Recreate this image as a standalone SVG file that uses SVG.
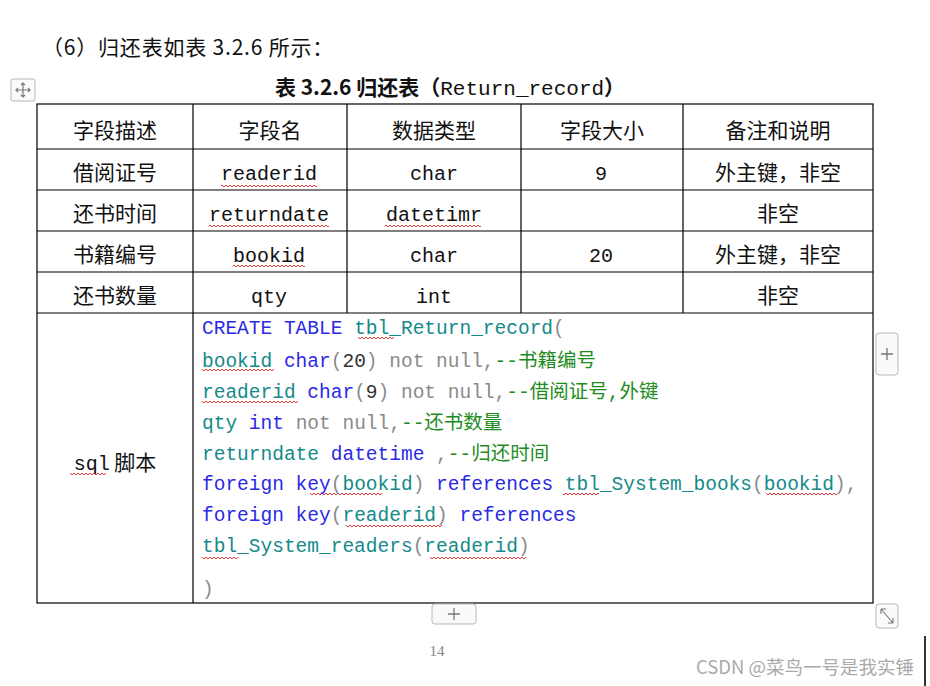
<svg xmlns="http://www.w3.org/2000/svg" width="930" height="686" viewBox="0 0 930 686">
<defs>
<pattern id="wv" width="4" height="4" patternUnits="userSpaceOnUse"><path d="M0,3 L2,1 L4,3" fill="none" stroke="#e02020" stroke-width="0.9"/></pattern>
<style>
.cj{font-family:"Noto Sans CJK SC","Noto Sans",sans-serif;font-size:21px;fill:#111}
.mo{font-family:"Liberation Mono","Noto Sans CJK SC",monospace;font-size:20px;fill:#111}
.sq{font-family:"Liberation Mono","Noto Sans CJK SC",monospace;font-size:19.5px}
.b{fill:#2a2ae6}.t{fill:#148a8a}.g{fill:#8a8a8a}.gr{fill:#1e8c1e}.k{fill:#333}
.ln{stroke:#000;stroke-width:1.2}
.ui{fill:#fafafa;stroke:#b8b8b8;stroke-width:1}
</style>
</defs>
<rect width="930" height="686" fill="#fff"/>
<text x="42" y="55" class="cj" style="font-size:21px;letter-spacing:0.8px">（6）归还表如表 3.2.6 所示：</text>
<text x="450" y="95" text-anchor="middle" class="cj" style="font-weight:bold;font-size:21px">表 3.2.6 归还表（<tspan class="mo" style="font-weight:normal;font-size:21px">Return_record</tspan>）</text>
<g id="table">
<rect x="37" y="104" width="836" height="499" fill="none" class="ln"/>
<path class="ln" d="M37,149H873M37,190H873M37,231H873M37,272H873M37,313H873M193,104V603M347,104V313M521,104V313M683,104V313"/>
</g>
<g id="cells" text-anchor="middle">
<text x="115" y="138" class="cj">字段描述</text><text x="270" y="138" class="cj">字段名</text><text x="434" y="138" class="cj">数据类型</text><text x="602" y="138" class="cj">字段大小</text><text x="778" y="138" class="cj">备注和说明</text>
<text x="115" y="180" class="cj">借阅证号</text><text x="269" y="180" class="mo">readerid</text><text x="434" y="180" class="mo">char</text><text x="601" y="180" class="mo">9</text><text x="778" y="180" class="cj">外主键，非空</text>
<text x="115" y="221" class="cj">还书时间</text><text x="269" y="221" class="mo">returndate</text><text x="434" y="221" class="mo">datetimr</text><text x="778" y="221" class="cj">非空</text>
<text x="115" y="262" class="cj">书籍编号</text><text x="269" y="262" class="mo">bookid</text><text x="434" y="262" class="mo">char</text><text x="601" y="262" class="mo">20</text><text x="778" y="262" class="cj">外主键，非空</text>
<text x="115" y="303" class="cj">还书数量</text><text x="269" y="303" class="mo">qty</text><text x="434" y="303" class="mo">int</text><text x="778" y="303" class="cj">非空</text>
<text x="115" y="470" class="cj"><tspan class="mo">sql</tspan> 脚本</text>
</g>
<g id="squiggles">
<rect x="221" y="183" width="96" height="4" fill="url(#wv)"/>
<rect x="209" y="224" width="120" height="4" fill="url(#wv)"/>
<rect x="385" y="224" width="96" height="4" fill="url(#wv)"/>
<rect x="233" y="265" width="72" height="4" fill="url(#wv)"/>
<rect x="70" y="473" width="36" height="4" fill="url(#wv)"/>
<rect x="358" y="337" width="36" height="4" fill="url(#wv)"/>
<rect x="202" y="369" width="72" height="4" fill="url(#wv)"/>
<rect x="202" y="400" width="96" height="4" fill="url(#wv)"/>
<rect x="310" y="493" width="72" height="4" fill="url(#wv)"/>
<rect x="563" y="493" width="36" height="4" fill="url(#wv)"/>
<rect x="766" y="493" width="72" height="4" fill="url(#wv)"/>
<rect x="346" y="524" width="96" height="4" fill="url(#wv)"/>
<rect x="202" y="555" width="36" height="4" fill="url(#wv)"/>
<rect x="430" y="555" width="96" height="4" fill="url(#wv)"/>
</g>
<g id="sql" class="sq" xml:space="preserve">
<text x="202" y="334"><tspan class="b">CREATE TABLE</tspan> <tspan class="t">tbl_Return_record</tspan><tspan class="g">(</tspan></text>
<text x="202" y="367"><tspan class="t">bookid</tspan> <tspan class="b">char</tspan><tspan class="g">(</tspan><tspan class="k">20</tspan><tspan class="g">) not null,</tspan><tspan class="gr">--书籍编号</tspan></text>
<text x="202" y="398"><tspan class="t">readerid</tspan> <tspan class="b">char</tspan><tspan class="g">(</tspan><tspan class="k">9</tspan><tspan class="g">) not null,</tspan><tspan class="gr">--借阅证号,外键</tspan></text>
<text x="202" y="429"><tspan class="t">qty</tspan> <tspan class="b">int</tspan> <tspan class="g">not null,</tspan><tspan class="gr">--还书数量</tspan></text>
<text x="202" y="460"><tspan class="t">returndate</tspan> <tspan class="b">datetime</tspan> <tspan class="g">,</tspan><tspan class="gr">--归还时间</tspan></text>
<text x="202" y="490"><tspan class="b">foreign key</tspan><tspan class="g">(</tspan><tspan class="t">bookid</tspan><tspan class="g">)</tspan> <tspan class="b">references</tspan> <tspan class="t">tbl_System_books</tspan><tspan class="g">(</tspan><tspan class="t">bookid</tspan><tspan class="g">),</tspan></text>
<text x="202" y="521"><tspan class="b">foreign key</tspan><tspan class="g">(</tspan><tspan class="t">readerid</tspan><tspan class="g">)</tspan>  <tspan class="b">references</tspan></text>
<text x="202" y="552"><tspan class="t">tbl_System_readers</tspan><tspan class="g">(</tspan><tspan class="t">readerid</tspan><tspan class="g">)</tspan></text>
<text x="202" y="595"><tspan class="g">)</tspan></text>
</g>
<g id="ui">
<rect x="11" y="79" width="24" height="22" rx="2" class="ui"/>
<path d="M23,83V97M16,90H30M21,85L23,83L25,85M21,95L23,97L25,95M18,88L16,90L18,92M28,88L30,90L28,92" stroke="#777" fill="none" stroke-width="1.2"/>
<rect x="876" y="333" width="22" height="42" rx="3" class="ui"/>
<path d="M887,348V360M881,354H893" stroke="#777" stroke-width="1.3"/>
<rect x="432" y="604" width="44" height="20" rx="3" class="ui"/>
<path d="M454,608V620M448,614H460" stroke="#777" stroke-width="1.3"/>
<rect x="876" y="604" width="22" height="24" rx="3" class="ui"/>
<path d="M881,609L893,623M881,609V614M881,609H886M893,623V618M893,623H888" stroke="#777" fill="none" stroke-width="1.1"/>
<path d="M925,636V686" stroke="#333" stroke-width="2"/>
</g>
<text x="437" y="656" text-anchor="middle" style="font-family:'Liberation Serif',serif;font-size:15px;fill:#888">14</text>
<text x="914" y="674" text-anchor="end" style="font-family:'Noto Sans CJK SC','Noto Sans',sans-serif;font-size:18.5px;fill:#aaa">CSDN @菜鸟一号是我实锤</text>
</svg>
